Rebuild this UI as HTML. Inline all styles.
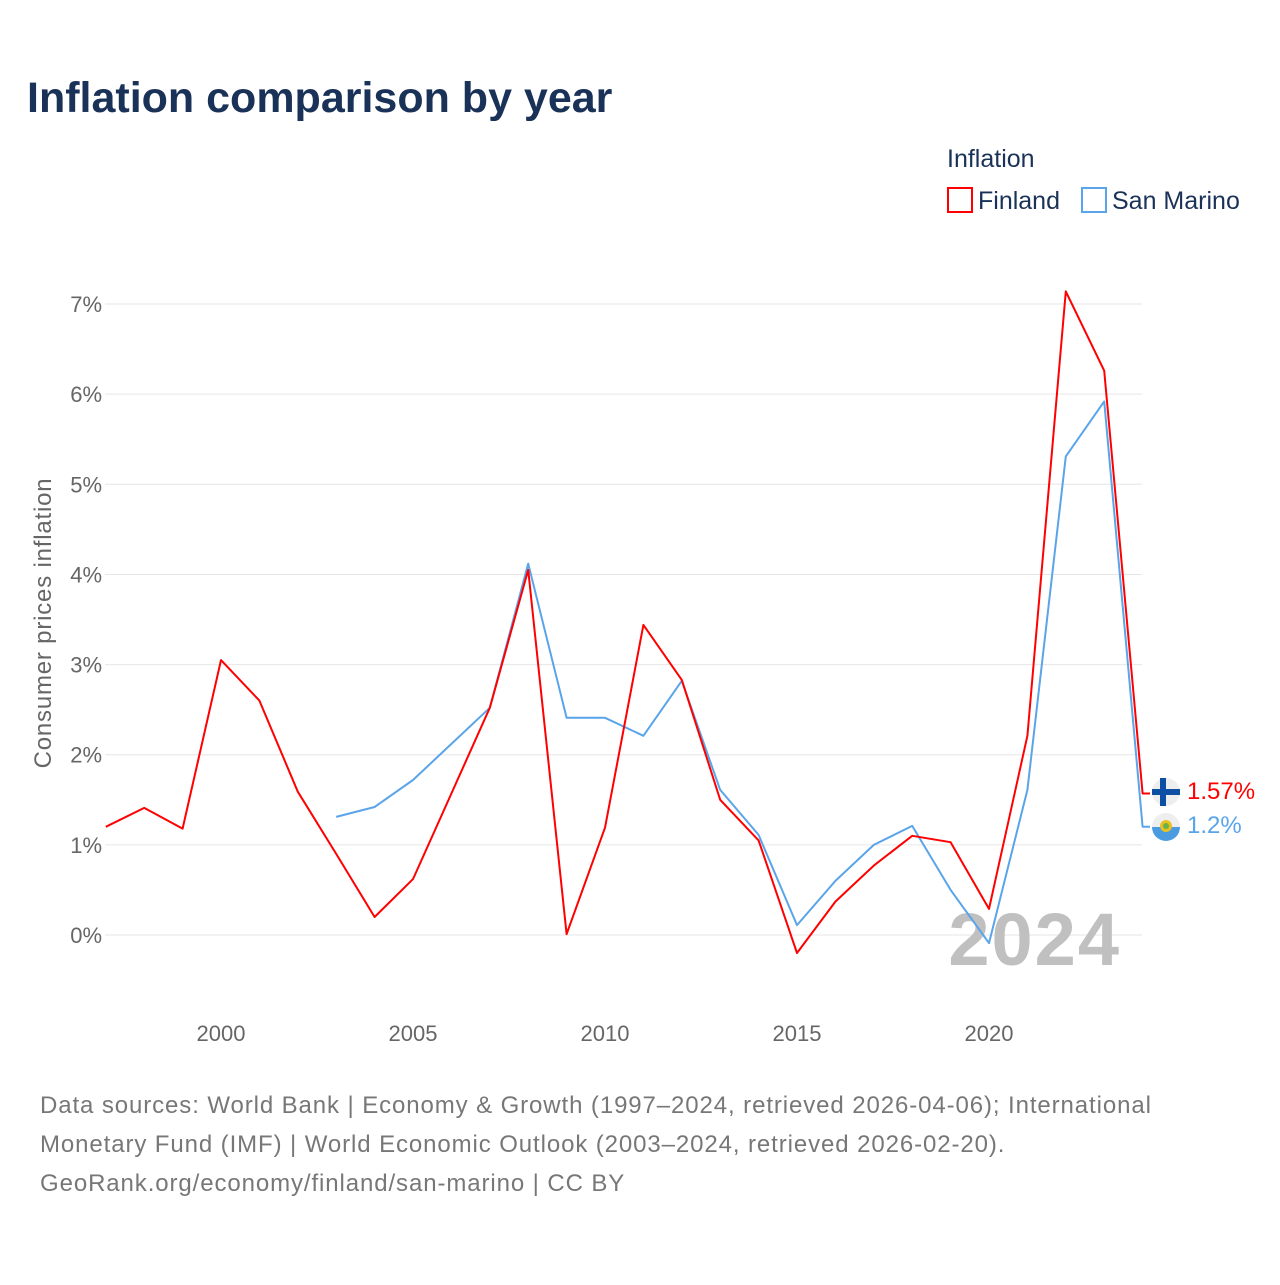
<!DOCTYPE html>
<html><head><meta charset="utf-8"><style>
body{margin:0;background:#fff;font-family:"Liberation Sans",sans-serif}
</style></head><body>
<svg width="1280" height="1280" viewBox="0 0 1280 1280" xmlns="http://www.w3.org/2000/svg" font-family="Liberation Sans, sans-serif">
<text x="27" y="112" font-size="43" font-weight="bold" fill="#1a3258">Inflation comparison by year</text>
<text x="947" y="167" font-size="25" fill="#1a3258">Inflation</text>
<g><rect x="948" y="188" width="24" height="24" fill="none" stroke="#f00" stroke-width="2"/><text x="978" y="209" font-size="25" fill="#1a3258">Finland</text></g>
<g><rect x="1082" y="188" width="24" height="24" fill="none" stroke="#5aa4ea" stroke-width="2"/><text x="1112" y="209" font-size="25" fill="#1a3258">San Marino</text></g>
<g id="grid"></g>
<g id="yticks"></g>
<g id="xticks"></g>
<text transform="translate(51,623) rotate(-90)" text-anchor="middle" font-size="24" letter-spacing="0.8" fill="#666">Consumer prices inflation</text>
<text x="1121" y="965" text-anchor="end" font-size="74" letter-spacing="2" font-weight="bold" fill="#c0c0c0">2024</text>
<g id="series"></g>
<g><circle cx="1166" cy="792" r="14" fill="#eee"/><rect x="1152" y="789" width="28" height="6" fill="#0d4fa3"/><rect x="1160" y="778" width="6" height="28" fill="#0d4fa3"/></g>
<g><clipPath id="c"><circle cx="1166" cy="827" r="14"/></clipPath><g clip-path="url(#c)"><rect x="1152" y="813" width="28" height="14" fill="#eee"/><rect x="1152" y="827" width="28" height="14" fill="#4a9be0"/></g><circle cx="1166" cy="826" r="6" fill="#e8c020"/><circle cx="1166" cy="826" r="3" fill="#6ab04c"/></g>
<text x="1187" y="799" font-size="24" fill="#f00">1.57%</text>
<text x="1187" y="833" font-size="24" fill="#5aa4ea">1.2%</text>
<text font-size="24" letter-spacing="0.9" fill="#777"><tspan x="40" y="1113">Data sources: World Bank | Economy &amp; Growth (1997–2024, retrieved 2026-04-06); International</tspan><tspan x="40" y="1152">Monetary Fund (IMF) | World Economic Outlook (2003–2024, retrieved 2026-02-20).</tspan><tspan x="40" y="1191">GeoRank.org/economy/finland/san-marino | CC BY</tspan></text>
</svg>
<script>
const finlandYears=[1997,1998,1999,2000,2001,2002,2003,2004,2005,2006,2007,2008,2009,2010,2011,2012,2013,2014,2015,2016,2017,2018,2019,2020,2021,2022,2023,2024];
const finlandValues=[1.20,1.41,1.18,3.05,2.60,1.59,0.90,0.20,0.62,1.57,2.52,4.05,0.01,1.19,3.44,2.83,1.50,1.05,-0.20,0.37,0.77,1.10,1.03,0.29,2.21,7.14,6.26,1.57];
const sanMarinoYears=[2003,2004,2005,2006,2007,2008,2009,2010,2011,2012,2013,2014,2015,2016,2017,2018,2019,2020,2021,2022,2023,2024];
const sanMarinoValues=[1.31,1.42,1.72,2.12,2.52,4.12,2.41,2.41,2.21,2.82,1.61,1.11,0.11,0.60,1.00,1.21,0.50,-0.09,1.61,5.31,5.92,1.20];
const yTicks=[0,1,2,3,4,5,6,7];
const xTicks=[2000,2005,2010,2015,2020];
const NS='http://www.w3.org/2000/svg';
const xs=y=>221+(y-2000)*38.4;
const ys=v=>935-v*90.14;
function mk(t,a,p){const e=document.createElementNS(NS,t);for(const k in a)e.setAttribute(k,a[k]);p.appendChild(e);return e;}
const grid=document.getElementById('grid'),yt=document.getElementById('yticks'),xt=document.getElementById('xticks'),ser=document.getElementById('series');
yTicks.forEach(v=>{
 const l=mk('line',{x1:105,x2:1142,y1:ys(v),y2:ys(v),stroke:'#e6e6e6','stroke-width':1},grid);
 
 
 const t=mk('text',{x:102,y:ys(v)+8,'text-anchor':'end','font-size':22,fill:'#666'},yt);
 t.textContent=v+'%';
 
 
});
xTicks.forEach(y=>{
 const t=mk('text',{x:xs(y),y:1041,'text-anchor':'middle','font-size':22,fill:'#666'},xt);
 t.textContent=y;
 
 
});
function line(years,vals,color,name){
 let d=years.map((y,i)=>(i?'L':'M')+xs(y).toFixed(1)+','+ys(vals[i]).toFixed(1)).join('');
 d+='L1150,'+ys(vals[vals.length-1]).toFixed(1);
 const p=mk('path',{d:d,fill:'none',stroke:color,'stroke-width':2,'stroke-linejoin':'round'},ser);
 
 
}
line(sanMarinoYears,sanMarinoValues,'#5aa4ea','line-san-marino');
line(finlandYears,finlandValues,'#ff0000','line-finland');
</script>
</body></html>
